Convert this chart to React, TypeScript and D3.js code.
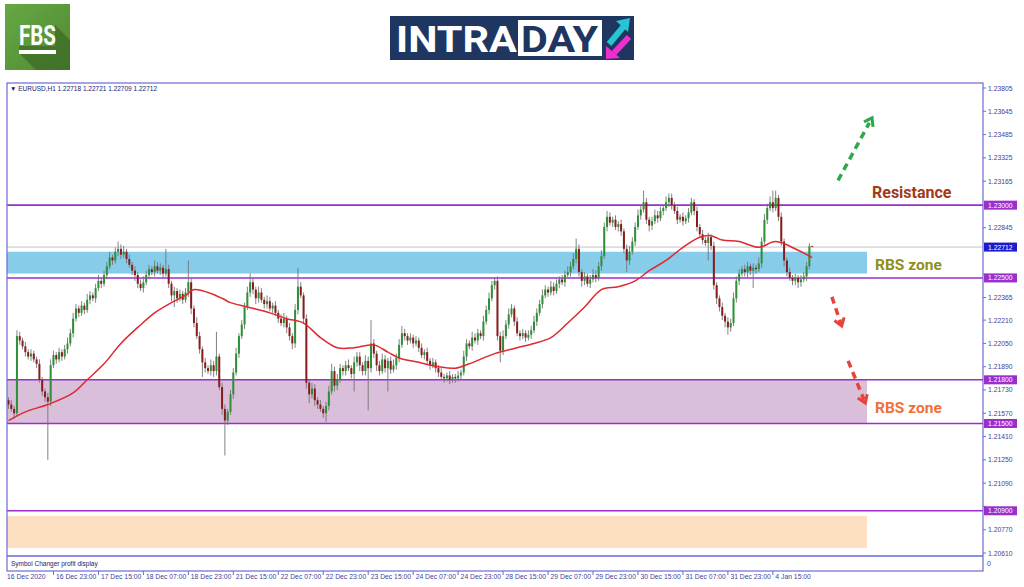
import React from "react";
import * as d3 from "d3";

// ---------- DATA ----------
const headerText = "\u25BC EURUSD,H1  1.22718 1.22721 1.22709 1.22712";
const firstOpen = 1.2166;
const closes = [
  1.2163, 1.2160, 1.2157, 1.2210, 1.2207, 1.2203, 1.2199, 1.2196, 1.2198, 1.2194,
  1.2191, 1.2180, 1.2172, 1.2168, 1.2165, 1.2190, 1.2197, 1.2194, 1.2199, 1.2196,
  1.2201, 1.2205, 1.2212, 1.2222, 1.2229, 1.2226, 1.2231, 1.2228, 1.2235, 1.2238,
  1.2236, 1.2243, 1.2248, 1.2246, 1.2252, 1.2258, 1.2264, 1.2262, 1.2268, 1.2270,
  1.2266, 1.2268, 1.2263, 1.2259, 1.2255, 1.2252, 1.2246, 1.2243, 1.2247, 1.2252,
  1.2256, 1.2254, 1.2258, 1.2255, 1.2257, 1.2253, 1.2256, 1.2246, 1.2238, 1.2241,
  1.2236, 1.2239, 1.2235, 1.2240, 1.2247, 1.2229, 1.2219, 1.2210, 1.2201, 1.2192,
  1.2188, 1.2186, 1.2190, 1.2186, 1.2196, 1.2175, 1.2160, 1.2152, 1.2158, 1.2170,
  1.2185, 1.2198, 1.2210, 1.2218, 1.2230, 1.2240, 1.2247, 1.2242, 1.2236, 1.2240,
  1.2235, 1.2232, 1.2234, 1.2229, 1.2231, 1.2226, 1.2222, 1.2219, 1.2222, 1.2216,
  1.2210, 1.2205, 1.2228, 1.2244, 1.2238, 1.2222, 1.2178, 1.2170, 1.2174, 1.2166,
  1.2163, 1.2160, 1.2157, 1.2162, 1.2172, 1.2186, 1.2176, 1.2180, 1.2188, 1.2186,
  1.2190, 1.2188, 1.2184, 1.2192, 1.2196, 1.2190, 1.2186, 1.2193, 1.2188, 1.2205,
  1.2198, 1.2190, 1.2186, 1.2194, 1.2188, 1.2193, 1.2187, 1.2190, 1.2195, 1.2204,
  1.2212, 1.2210, 1.2207, 1.2209, 1.2205, 1.2207, 1.2202, 1.2197, 1.2199, 1.2193,
  1.2190, 1.2192, 1.2188, 1.2185, 1.2182, 1.2181, 1.2183, 1.2180, 1.2182, 1.2181,
  1.2183, 1.2185, 1.2196, 1.2205, 1.2203, 1.2209, 1.2207, 1.2212, 1.2210, 1.2220,
  1.2228, 1.2236, 1.2245, 1.2248, 1.2210, 1.2200, 1.2210, 1.2218, 1.2225, 1.2229,
  1.2220, 1.2212, 1.2210, 1.2212, 1.2209, 1.2211, 1.2214, 1.2220, 1.2226, 1.2232,
  1.2238, 1.2242, 1.2240, 1.2244, 1.2241, 1.2246, 1.2249, 1.2247, 1.2252, 1.2254,
  1.2258, 1.2263, 1.2270, 1.2254, 1.2248, 1.2251, 1.2246, 1.2249, 1.2252, 1.2250,
  1.2258, 1.2265, 1.2285, 1.2292, 1.2288, 1.2290, 1.2285, 1.2287, 1.2282, 1.2270,
  1.2262, 1.2268, 1.2275, 1.2285, 1.2293, 1.2297, 1.2302, 1.2290, 1.2286, 1.2289,
  1.2293, 1.2291, 1.2296, 1.2298, 1.2302, 1.2305, 1.2300, 1.2296, 1.2290, 1.2292,
  1.2289, 1.2291, 1.2295, 1.2302, 1.2296, 1.2285, 1.2280, 1.2276, 1.2274, 1.2278,
  1.2272, 1.2245, 1.2236, 1.2230, 1.2224, 1.2220, 1.2216, 1.2219, 1.2236, 1.2248,
  1.2253, 1.2256, 1.2254, 1.2258, 1.2255, 1.2257, 1.2256, 1.2260, 1.2275, 1.2290,
  1.2298, 1.2302, 1.2298, 1.2305, 1.2292, 1.2275, 1.2262, 1.2254, 1.2250, 1.2248,
  1.2250, 1.2247, 1.2249, 1.2251, 1.2258, 1.22718, 1.22712,
];
// upper / lower wick lengths in pips
const upWick = [
  2, 3, 2, 4, 3, 2, 3, 2, 3, 2, 2, 3, 2, 2, 3, 4, 3, 2, 3, 2,
  3, 4, 3, 4, 3, 2, 3, 2, 4, 3, 2, 3, 4, 2, 3, 3, 4, 2, 3, 5,
  3, 4, 2, 3, 2, 3, 2, 3, 4, 3, 3, 2, 4, 3, 3, 2, 14, 3, 2, 3,
  2, 3, 2, 3, 15, 3, 2, 4, 3, 2, 3, 2, 4, 3, 17, 2, 3, 3, 2, 3,
  3, 4, 2, 3, 3, 4, 6, 3, 2, 4, 3, 2, 4, 3, 2, 3, 2, 3, 4, 2,
  3, 2, 4, 13, 3, 2, 3, 2, 4, 3, 2, 3, 2, 3, 4, 5, 3, 4, 3, 2,
  3, 4, 2, 4, 3, 3, 2, 4, 3, 16, 3, 2, 3, 4, 3, 2, 3, 4, 3, 4,
  5, 3, 2, 3, 2, 3, 2, 3, 2, 3, 2, 3, 2, 2, 3, 2, 2, 3, 2, 2,
  3, 2, 4, 3, 2, 4, 3, 3, 2, 4, 3, 4, 3, 2, 3, 3, 4, 3, 4, 3,
  2, 3, 2, 3, 2, 3, 3, 4, 3, 3, 4, 3, 2, 4, 3, 3, 2, 3, 3, 4,
  3, 4, 7, 3, 2, 3, 2, 3, 4, 3, 3, 4, 3, 4, 3, 2, 3, 2, 3, 2,
  3, 4, 3, 3, 4, 3, 8, 3, 2, 3, 4, 3, 3, 2, 4, 3, 3, 2, 3, 2,
  3, 2, 3, 3, 2, 3, 2, 3, 2, 3, 2, 3, 2, 2, 3, 2, 3, 3, 4, 3,
  3, 2, 3, 3, 2, 3, 2, 4, 3, 4, 3, 4, 8, 5, 2, 3, 2, 2, 3, 2,
  3, 2, 3, 3, 3, 2, 0.3,
];
const dnWick = [
  3, 2, 4, 2, 3, 2, 3, 2, 3, 2, 3, 2, 3, 3, 40, 3, 2, 3, 2, 3,
  2, 3, 2, 3, 2, 3, 2, 3, 2, 3, 2, 3, 2, 3, 2, 3, 2, 3, 2, 3,
  3, 2, 3, 2, 3, 4, 3, 2, 3, 2, 3, 2, 3, 2, 3, 3, 2, 3, 4, 8,
  3, 2, 3, 2, 3, 4, 3, 2, 3, 10, 3, 2, 3, 4, 3, 2, 4, 24, 3, 2,
  3, 2, 3, 2, 3, 2, 3, 3, 4, 3, 2, 3, 3, 2, 3, 2, 3, 2, 3, 4,
  3, 4, 3, 3, 2, 3, 4, 6, 3, 4, 3, 2, 3, 6, 3, 2, 4, 3, 2, 3,
  3, 2, 3, 12, 3, 4, 3, 3, 29, 3, 3, 4, 3, 2, 3, 16, 3, 2, 3, 3,
  2, 3, 3, 2, 3, 2, 3, 2, 3, 2, 3, 2, 3, 3, 2, 3, 2, 3, 2, 3,
  2, 3, 2, 3, 2, 3, 2, 3, 2, 3, 2, 3, 2, 3, 3, 8, 3, 2, 3, 2,
  3, 2, 3, 2, 3, 2, 3, 2, 3, 2, 3, 2, 3, 2, 3, 2, 3, 2, 3, 2,
  3, 2, 3, 3, 4, 3, 2, 3, 2, 3, 2, 3, 2, 3, 2, 3, 2, 3, 3, 3,
  8, 3, 2, 3, 2, 3, 2, 3, 4, 3, 2, 3, 2, 3, 2, 3, 3, 2, 3, 2,
  3, 2, 3, 2, 3, 3, 2, 3, 2, 12, 3, 3, 4, 3, 3, 4, 5, 3, 2, 3,
  3, 2, 3, 4, 3, 12, 3, 2, 3, 2, 3, 2, 3, 2, 3, 3, 4, 3, 2, 3,
  3, 4, 3, 2, 3, 2, 0,
];
// moving average, sampled along the red line
const maBars = [0, 6, 14, 23, 28, 34, 40, 46, 52, 58, 63, 66, 71, 76, 79, 85, 93, 99, 105, 111, 117, 123, 130, 135, 139, 146, 153, 159, 164, 173, 181, 187, 193, 199, 205, 211, 217, 223, 228, 234, 240, 246, 250, 254, 260, 267, 273, 281, 286];
const maValues = [1.2152, 1.2158, 1.2163, 1.2171, 1.2180, 1.2191, 1.2205, 1.2216, 1.2226, 1.2233, 1.2238, 1.2242, 1.2240, 1.2236, 1.2233, 1.2230, 1.2226, 1.2222, 1.2219, 1.2209, 1.2202, 1.2202, 1.2204, 1.2199, 1.2195, 1.2192, 1.2189, 1.2188, 1.2191, 1.2198, 1.2202, 1.2205, 1.2209, 1.2219, 1.2230, 1.2242, 1.2244, 1.2248, 1.2255, 1.2262, 1.2271, 1.2278, 1.2279, 1.2276, 1.2275, 1.2271, 1.2275, 1.2269, 1.2264];

const timeLabels = ["16 Dec 2020", "16 Dec 23:00", "17 Dec 15:00", "18 Dec 07:00", "18 Dec 23:00", "21 Dec 15:00", "22 Dec 07:00", "22 Dec 23:00", "23 Dec 15:00", "24 Dec 07:00", "24 Dec 23:00", "28 Dec 15:00", "29 Dec 07:00", "29 Dec 23:00", "30 Dec 15:00", "31 Dec 07:00", "31 Dec 23:00", "4 Jan 15:00"];
const barsPerLabel = 16;
const priceTicks = [1.23805, 1.23645, 1.23485, 1.23325, 1.23165, 1.22845, 1.22525, 1.22365, 1.2221, 1.2205, 1.2189, 1.2173, 1.2157, 1.2141, 1.2125, 1.2109, 1.2093, 1.2077, 1.2061];
const levelLines = [1.23, 1.225, 1.218, 1.215, 1.209];
const currentPrice = 1.22712;
const zones = [
  { from: 1.2253, to: 1.2268, color: "#87cdea" },
  { from: 1.215, to: 1.218, color: "#d9bfd9" },
  { from: 1.20644, to: 1.20864, color: "#fde0c2" },
];
const zoneEndBar = 305.5;

// ---------- LAYOUT ----------
const W = 1024, H = 587;
const plotLeft = 7, plotRight = 983, plotTop = 83, plotBottom = 556, subBottom = 571;

export default function App() {
  const x = d3.scaleLinear().domain([0, 286]).range([8.5, 812.2]);
  const y = d3.scaleLinear().domain([1.2061, 1.23805]).range([553, 88]);

  const candles = closes.map((c, i) => {
    const o = i === 0 ? firstOpen : closes[i - 1];
    const hi = Math.max(o, c) + upWick[i] * 0.0001;
    const lo = Math.min(o, c) - dnWick[i] * 0.0001;
    return { i, o, c, hi, lo };
  });

  const maLine = d3
    .line<number>()
    .x((_, k) => x(maBars[k]))
    .y((v) => y(v))
    .curve(d3.curveCatmullRom.alpha(0.5));

  const axisFont = "'Liberation Sans', Arial, sans-serif";
  const axisColor = "#3f3f96";
  const frameColor = "#6b6bd6";
  const levelColor = "#9a2fcc";

  const chevron = (x1: number, y1: number, x2: number, y2: number, size: number) => {
    const a = Math.atan2(y2 - y1, x2 - x1);
    const p1 = [x2 - size * Math.cos(a - 0.6), y2 - size * Math.sin(a - 0.6)];
    const p2 = [x2 - size * Math.cos(a + 0.6), y2 - size * Math.sin(a + 0.6)];
    return `${p1[0]},${p1[1]} ${x2},${y2} ${p2[0]},${p2[1]}`;
  };

  const arrows = [
    { b1: 295.2, p1: 1.2317, b2: 307.3, p2: 1.2360, color: "#2fa84a" },
    { b1: 293.0, p1: 1.2237, b2: 296.5, p2: 1.2217, color: "#e8433a" },
    { b1: 298.8, p1: 1.2193, b2: 304.9, p2: 1.2164, color: "#e8433a" },
  ];

  // hide the part of a tick label that sits under a coloured price box
  const boxPrices = [...levelLines, currentPrice];
  const coveredBy = (v: number) => boxPrices.some((b) => Math.abs(y(b) - y(v)) < 4.5);

  return (
    <svg width={W} height={H} style={{ position: "absolute", left: 0, top: 0, background: "#fff" }}>
      <defs>
        <linearGradient id="fbsg" x1="0" y1="0" x2="1" y2="1">
          <stop offset="0" stopColor="#66a844" />
          <stop offset="1" stopColor="#4f8a32" />
        </linearGradient>
      </defs>
      <rect x={0} y={0} width={W} height={H} fill="#ffffff" />

      {/* FBS logo */}
      <g>
        <rect x={5} y={4} width={65} height={66} fill="url(#fbsg)" />
        <polygon points="55,25 70,40 70,70 36,70 19,53 19,46 55,46" fill="#3d6b27" opacity={0.75} />
        <text x={37.5} y={45} textAnchor="middle" fill="#ffffff" fontFamily="Roboto, sans-serif" fontWeight="bold" fontSize={27} textLength={37} lengthAdjust="spacingAndGlyphs">FBS</text>
        <rect x={19} y={50} width={37} height={4} fill="#ffffff" />
      </g>

      {/* INTRADAY banner */}
      <g>
        <rect x={390} y={16} width={244} height={44} fill="#1f3661" />
        <text x={396} y={52} fill="#ffffff" fontFamily="Roboto, sans-serif" fontWeight="bold" fontSize={37} textLength={121} lengthAdjust="spacingAndGlyphs">INTRA</text>
        <rect x={518} y={20} width={84} height={36} fill="#ffffff" />
        <text x={521} y={52} fill="#1f3661" fontFamily="Roboto, sans-serif" fontWeight="bold" fontSize={37} textLength={77} lengthAdjust="spacingAndGlyphs">DAY</text>
        <line x1={609} y1={44} x2={624} y2={26} stroke="#26c5d2" strokeWidth={6} />
        <polygon points="616,21 630,18 628,32" fill="#26c5d2" />
        <line x1={629} y1={37} x2={614} y2={53} stroke="#ee2fcf" strokeWidth={6} />
        <polygon points="606,46 606,59 620,58" fill="#ee2fcf" />
      </g>

      {/* zones */}
      {zones.map((z, k) => (
        <rect key={k} x={x(0) - 1.5} y={y(z.to)} width={x(zoneEndBar) - x(0) + 1.5} height={y(z.from) - y(z.to)} fill={z.color} />
      ))}

      {/* current price line */}
      <line x1={plotLeft} x2={plotRight} y1={y(currentPrice)} y2={y(currentPrice)} stroke="#c4c4c4" strokeWidth={1} />

      {/* level lines */}
      {levelLines.map((v) => (
        <line key={v} x1={plotLeft} x2={plotRight} y1={y(v)} y2={y(v)} stroke={levelColor} strokeWidth={1.6} />
      ))}

      {/* candles */}
      <g>
        {candles.map((d) => (
          <line key={"w" + d.i} x1={x(d.i)} x2={x(d.i)} y1={y(d.hi)} y2={y(d.lo)} stroke="#747474" strokeWidth={0.9} />
        ))}
        {candles.map((d) => {
          const top = y(Math.max(d.o, d.c));
          const h = Math.max(0.9, Math.abs(y(d.o) - y(d.c)));
          return (
            <rect key={"b" + d.i} x={x(d.i) - 1} y={top} width={2} height={h} fill={d.c >= d.o ? "#2e8f36" : "#861c1c"} />
          );
        })}
      </g>

      {/* moving average */}
      <path d={maLine(maValues) || ""} fill="none" stroke="#e0282e" strokeWidth={1.5} />

      {/* frame */}
      <rect x={plotLeft} y={plotTop} width={plotRight - plotLeft} height={subBottom - plotTop} fill="none" stroke={frameColor} strokeWidth={1.2} />
      <line x1={plotLeft} x2={plotRight} y1={plotBottom} y2={plotBottom} stroke={frameColor} strokeWidth={1.6} />

      <text x={10} y={91} fontFamily={axisFont} fontSize={6.5} fill="#202070">{headerText}</text>
      <text x={11} y={566} fontFamily={axisFont} fontSize={6.5} fill="#202070">Symbol Changer profit display</text>
      <text x={987} y={566} fontFamily={axisFont} fontSize={7} fill={axisColor}>0</text>

      {/* price axis */}
      {priceTicks.map((v) => (
        <g key={v}>
          <line x1={plotRight} x2={plotRight + 3} y1={y(v)} y2={y(v)} stroke={frameColor} />
          {!coveredBy(v) && (
            <text x={988} y={y(v) + 2.5} fontFamily={axisFont} fontSize={6.8} fill={axisColor}>{v.toFixed(5)}</text>
          )}
        </g>
      ))}
      {levelLines.map((v) => (
        <g key={"l" + v}>
          <rect x={plotRight + 1} y={y(v) - 4.5} width={33} height={9} fill={levelColor} />
          <text x={988} y={y(v) + 2.5} fontFamily={axisFont} fontSize={6.8} fill="#ffffff">{v.toFixed(5)}</text>
        </g>
      ))}
      <rect x={plotRight + 1} y={y(currentPrice) - 4.5} width={33} height={9} fill="#1c1cc8" />
      <text x={988} y={y(currentPrice) + 2.5} fontFamily={axisFont} fontSize={6.8} fill="#ffffff">{currentPrice.toFixed(5)}</text>

      {/* time axis */}
      {timeLabels.map((t, k) => {
        const xx = k === 0 ? plotLeft : x(k * barsPerLabel);
        return (
          <g key={t}>
            {k > 0 && <line x1={xx} x2={xx} y1={subBottom} y2={subBottom + 4} stroke={frameColor} />}
            <text x={k === 0 ? xx : xx + 2.5} y={578.5} fontFamily={axisFont} fontSize={6.8} fill={axisColor}>{t}</text>
          </g>
        );
      })}

      {/* annotations */}
      {arrows.map((a, k) => {
        const x1 = x(a.b1), y1 = y(a.p1), x2 = x(a.b2), y2 = y(a.p2);
        return (
          <g key={k}>
            <line x1={x1} y1={y1} x2={x2 - (x2 - x1) * 0.08} y2={y2 - (y2 - y1) * 0.08} stroke={a.color} strokeWidth={3.5} strokeDasharray="7,5" />
            <polyline points={chevron(x1, y1, x2, y2, 9)} fill="none" stroke={a.color} strokeWidth={3} />
          </g>
        );
      })}
      <text x={872} y={198} fontFamily="Roboto, sans-serif" fontWeight="bold" fontSize={16} fill="#a23a16">Resistance</text>
      <text x={875} y={270} fontFamily="Roboto, sans-serif" fontWeight="bold" fontSize={15.5} fill="#8f8f1c">RBS zone</text>
      <text x={875} y={413} fontFamily="Roboto, sans-serif" fontWeight="bold" fontSize={15.5} fill="#f0703a">RBS zone</text>
    </svg>
  );
}
